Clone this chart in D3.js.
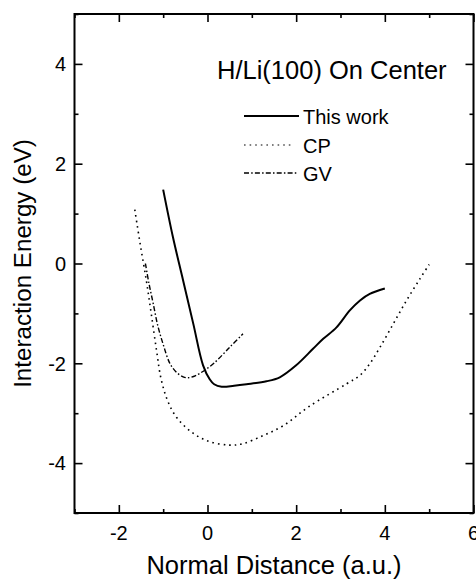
<!DOCTYPE html>
<html>
<head>
<meta charset="utf-8">
<script src="https://cdn.jsdelivr.net/npm/d3@7"></script>
<style>
  html, body { margin: 0; padding: 0; background: #fff; }
  svg { display: block; }
  text { font-family: "Liberation Sans", Arial, Helvetica, sans-serif; fill: #000; }
</style>
</head>
<body>
<svg id="chart" width="476" height="579"></svg>
<script>
// ---- data ----
const xMajorTicks = [-2, 0, 2, 4, 6];
const xMinorTicks = [-3, -1, 1, 3, 5];
const yMajorTicks = [-4, -2, 0, 2, 4];
const yMinorTicks = [-5, -3, -1, 1, 3, 5];

const thisWorkX = [-1.0, -0.78, -0.55, -0.32, -0.10, 0.05, 0.15, 0.32, 0.6, 0.88, 1.33, 1.63, 2.0, 2.38, 2.61, 2.91, 3.21, 3.44, 3.66, 4.0];
const thisWorkY = [1.48, 0.53, -0.34, -1.21, -2.04, -2.32, -2.42, -2.47, -2.45, -2.42, -2.36, -2.28, -2.04, -1.71, -1.51, -1.28, -0.94, -0.74, -0.61, -0.50];

const cpX = [-1.64, -1.52, -1.38, -1.27, -1.15, -1.05, -0.9, -0.7, -0.4, -0.02, 0.5, 0.8, 1.25, 1.71, 2.3, 3.14, 3.44, 3.66, 3.89, 4.19, 4.49, 4.79, 5.0];
const cpY = [1.08, 0.4, -0.34, -1.0, -1.74, -2.3, -2.75, -3.08, -3.35, -3.55, -3.64, -3.61, -3.45, -3.25, -2.86, -2.41, -2.24, -2.01, -1.68, -1.21, -0.74, -0.31, -0.02];

const gvX = [-1.40, -1.32, -1.23, -1.12, -1.0, -0.85, -0.7, -0.55, -0.44, -0.3, -0.17, 0.13, 0.5, 0.8];
const gvY = [0.0, -0.4, -0.78, -1.25, -1.62, -2.0, -2.18, -2.27, -2.29, -2.26, -2.2, -2.01, -1.68, -1.41];

const seriesNames = ["This work", "CP", "GV"];
const titleText = "H/Li(100) On Center";
const xLabel = "Normal Distance (a.u.)";
const yLabel = "Interaction Energy (eV)";

// ---- scales ----
const svg = d3.select("#chart");
const x = d3.scaleLinear().domain([-3, 6]).range([74.5, 473.5]);
const y = d3.scaleLinear().domain([-5, 5]).range([513, 14]);

const styles = [
  { width: 2, dash: null, legendWidth: 2 },
  { width: 1.6, dash: "1.6,4", legendWidth: 1.1 },
  { width: 1.4, dash: "5,2.2,1.5,2.2", legendWidth: 1.3 }
];

// ---- curves ----
const line = d3.line()
  .x(d => x(d[0])).y(d => y(d[1]))
  .curve(d3.curveCatmullRom.alpha(0.5));

const series = [
  thisWorkX.map((v, i) => [v, thisWorkY[i]]),
  cpX.map((v, i) => [v, cpY[i]]),
  gvX.map((v, i) => [v, gvY[i]])
];

series.forEach((pts, i) => {
  svg.append("path")
    .attr("d", line(pts))
    .attr("fill", "none")
    .attr("stroke", "#000")
    .attr("stroke-width", styles[i].width)
    .attr("stroke-dasharray", styles[i].dash)
    .attr("stroke-linejoin", "round");
});

// ---- axes (ticks inward on all sides) ----
const majorLen = 8, minorLen = 4;
const axisG = svg.append("g");

const axBottom = d3.axisBottom(x).tickValues(xMajorTicks).tickSizeInner(-majorLen).tickSizeOuter(0).tickFormat("");
const axBottomMinor = d3.axisBottom(x).tickValues(xMinorTicks).tickSizeInner(-minorLen).tickSizeOuter(0).tickFormat("");
const axTop = d3.axisTop(x).tickValues(xMajorTicks).tickSizeInner(-majorLen).tickSizeOuter(0).tickFormat("");
const axTopMinor = d3.axisTop(x).tickValues(xMinorTicks).tickSizeInner(-minorLen).tickSizeOuter(0).tickFormat("");
const axLeft = d3.axisLeft(y).tickValues(yMajorTicks).tickSizeInner(-majorLen).tickSizeOuter(0).tickFormat("");
const axLeftMinor = d3.axisLeft(y).tickValues(yMinorTicks).tickSizeInner(-minorLen).tickSizeOuter(0).tickFormat("");
const axRight = d3.axisRight(y).tickValues(yMajorTicks).tickSizeInner(-majorLen).tickSizeOuter(0).tickFormat("");
const axRightMinor = d3.axisRight(y).tickValues(yMinorTicks).tickSizeInner(-minorLen).tickSizeOuter(0).tickFormat("");

[[axBottom, `translate(0,${y(-5)})`], [axBottomMinor, `translate(0,${y(-5)})`],
 [axTop, `translate(0,${y(5)})`], [axTopMinor, `translate(0,${y(5)})`],
 [axLeft, `translate(${x(-3)},0)`], [axLeftMinor, `translate(${x(-3)},0)`],
 [axRight, `translate(${x(6)},0)`], [axRightMinor, `translate(${x(6)},0)`]].forEach(([ax, tr]) => {
  const g = axisG.append("g").attr("transform", tr).call(ax);
  g.select(".domain").remove();
  g.selectAll(".tick line").attr("stroke", "#000").attr("stroke-width", 1.6);
});

// frame
axisG.append("rect")
  .attr("x", x(-3)).attr("y", y(5))
  .attr("width", x(6) - x(-3)).attr("height", y(-5) - y(5))
  .attr("fill", "none").attr("stroke", "#000").attr("stroke-width", 2);

// tick labels
svg.append("g").selectAll("text").data(xMajorTicks).join("text")
  .attr("x", d => x(d)).attr("y", 540)
  .attr("text-anchor", "middle").attr("font-size", 20)
  .text(d => d < 0 ? "-" + Math.abs(d) : d);

svg.append("g").selectAll("text").data(yMajorTicks).join("text")
  .attr("x", 66).attr("y", d => y(d)).attr("dy", "0.36em")
  .attr("text-anchor", "end").attr("font-size", 20)
  .text(d => d < 0 ? "-" + Math.abs(d) : d);

// axis titles
svg.append("text")
  .attr("x", (x(-3) + x(6)) / 2).attr("y", 574)
  .attr("text-anchor", "middle").attr("font-size", 25.5)
  .text(xLabel);

svg.append("text")
  .attr("transform", `translate(31,${(y(5) + y(-5)) / 2}) rotate(-90)`)
  .attr("text-anchor", "middle").attr("font-size", 24.2)
  .text(yLabel);

// chart title inside
svg.append("text")
  .attr("x", 217).attr("y", 79)
  .attr("font-size", 25.5)
  .text(titleText);

// legend
const legendY = [116, 145, 173];
const legendEnd = [299, 293, 297];
seriesNames.forEach((name, i) => {
  svg.append("line")
    .attr("x1", 244).attr("x2", legendEnd[i])
    .attr("y1", legendY[i]).attr("y2", legendY[i])
    .attr("stroke", "#000")
    .attr("stroke-width", styles[i].legendWidth)
    .attr("stroke-dasharray", styles[i].dash);
  svg.append("text")
    .attr("x", 303).attr("y", legendY[i] + 7.5)
    .attr("font-size", 20)
    .text(name);
});
</script>
</body>
</html>
